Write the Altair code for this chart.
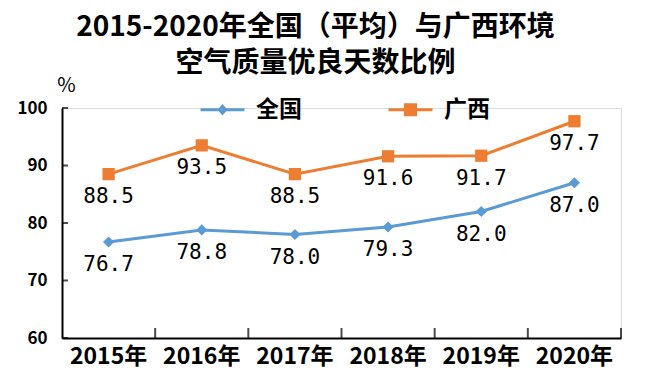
import altair as alt
import pandas as pd

years = ["2015年", "2016年", "2017年", "2018年", "2019年", "2020年"]
national = [76.7, 78.8, 78.0, 79.3, 82.0, 87.0]
guangxi = [88.5, 93.5, 88.5, 91.6, 91.7, 97.7]
series = ["全国", "广西"]
colors = ["#5B9BD5", "#ED7D31"]
y_ticks = [60, 70, 80, 90, 100]
title_lines = ["2015-2020年全国（平均）与广西环境", "空气质量优良天数比例"]

rows = []
for s, vals in zip(series, [national, guangxi]):
    for yr, v in zip(years, vals):
        rows.append({"year": yr, "series": s, "value": v})
df = pd.DataFrame(rows)
tick_df = pd.DataFrame({"tick": y_ticks})
year_df = pd.DataFrame({"year": years})

CJK = "Noto Sans CJK SC"

xscale = alt.Scale(type="band", paddingInner=0, paddingOuter=0, domain=years)
yscale = alt.Scale(domain=[60, 100], nice=False, zero=False)
cscale = alt.Scale(domain=series, range=colors)

xaxis = alt.Axis(title=None, labelAngle=0, labelFont=CJK, labelFontSize=23,
                 labelFontWeight="bold", labelColor="black", domainColor="black",
                 domainWidth=2, ticks=False, tickSize=0, labelPadding=7, grid=False)
yaxis = alt.Axis(values=y_ticks, title="%", titleAngle=0, titleX=4, titleY=-23,
                 titleAlign="center", titleBaseline="middle", titleFont=CJK,
                 titleFontSize=20, titleFontWeight="normal", titleColor="black",
                 labelFont=CJK, labelFontSize=17, labelFontWeight="bold",
                 labelColor="black", labelPadding=15, ticks=False, tickSize=0,
                 domainColor="black", domainWidth=2, grid=False)

X = alt.X("year:N", scale=xscale, sort=years, axis=xaxis)
Y = alt.Y("value:Q", scale=yscale, axis=yaxis)

line = alt.Chart(df).mark_line(strokeWidth=3).encode(
    x=X, y=Y, color=alt.Color("series:N", scale=cscale, legend=None),
    detail="series:N")

points = alt.Chart(df).mark_point(filled=True, opacity=1).encode(
    x=X, y=Y,
    color=alt.Color("series:N", scale=cscale, legend=None),
    shape=alt.Shape("series:N", scale=alt.Scale(domain=series, range=["diamond", "square"]), legend=None),
    size=alt.Size("series:N", scale=alt.Scale(domain=series, range=[125, 150]), legend=None))

labels = alt.Chart(df).mark_text(dy=23, font="DejaVu Sans Mono", fontSize=21,
                                 color="black", baseline="middle").encode(
    x=X, y=Y, text=alt.Text("value:Q", format=".1f"))

ytick_layer = alt.Chart(tick_df).mark_tick(orient="horizontal", size=6, thickness=2,
                                          color="black").encode(
    y=alt.Y("tick:Q", scale=yscale, axis=yaxis), x=alt.value(3))

xtick_layer = alt.Chart(year_df).mark_tick(orient="vertical", size=10, thickness=2,
                                          color="black").encode(
    x=alt.X("year:N", scale=xscale, sort=years, axis=xaxis, bandPosition=1),
    y=alt.value(225))

diamond_path = "M-1,0L1,0M0,-0.16L0.14,0L0,0.16L-0.14,0Z"
square_path = "M-1,0L1,0M-0.23,-0.23L0.23,-0.23L0.23,0.23L-0.23,0.23Z"

leg = dict(orient="none", legendX=137, legendY=-22, direction="horizontal",
           title=None, symbolSize=1936, symbolStrokeWidth=3, labelFont=CJK,
           labelFontSize=23, labelFontWeight="bold", labelColor="black",
           labelOffset=10, columnPadding=80, padding=0, symbolOpacity=1)

legend_layer = alt.Chart(df).mark_point(filled=True, strokeWidth=3).encode(
    x=X, y=Y,
    color=alt.Color("series:N", scale=cscale, legend=alt.Legend(**leg)),
    stroke=alt.Stroke("series:N", scale=cscale, legend=alt.Legend(**leg)),
    shape=alt.Shape("series:N", scale=alt.Scale(domain=series, range=[diamond_path, square_path]),
                    legend=alt.Legend(**leg)),
).transform_filter("false")

chart = alt.layer(xtick_layer, ytick_layer, line, points, labels, legend_layer).resolve_scale(
    color="independent", shape="independent", stroke="independent", size="independent"
).properties(
    width=559, height=230,
    padding={"left": 54, "top": 100, "right": 23, "bottom": 42},
    autosize=alt.AutoSizeParams(type="none"),
    title=alt.TitleParams(text=title_lines, font=CJK, fontSize=28, fontWeight="bold",
                          color="black", anchor="middle", dx=-26, lineHeight=36,
                          offset=-3),
).configure_view(stroke=None).configure(background="white")

chart.save("out.html", embed_options={"renderer": "svg", "actions": False})
